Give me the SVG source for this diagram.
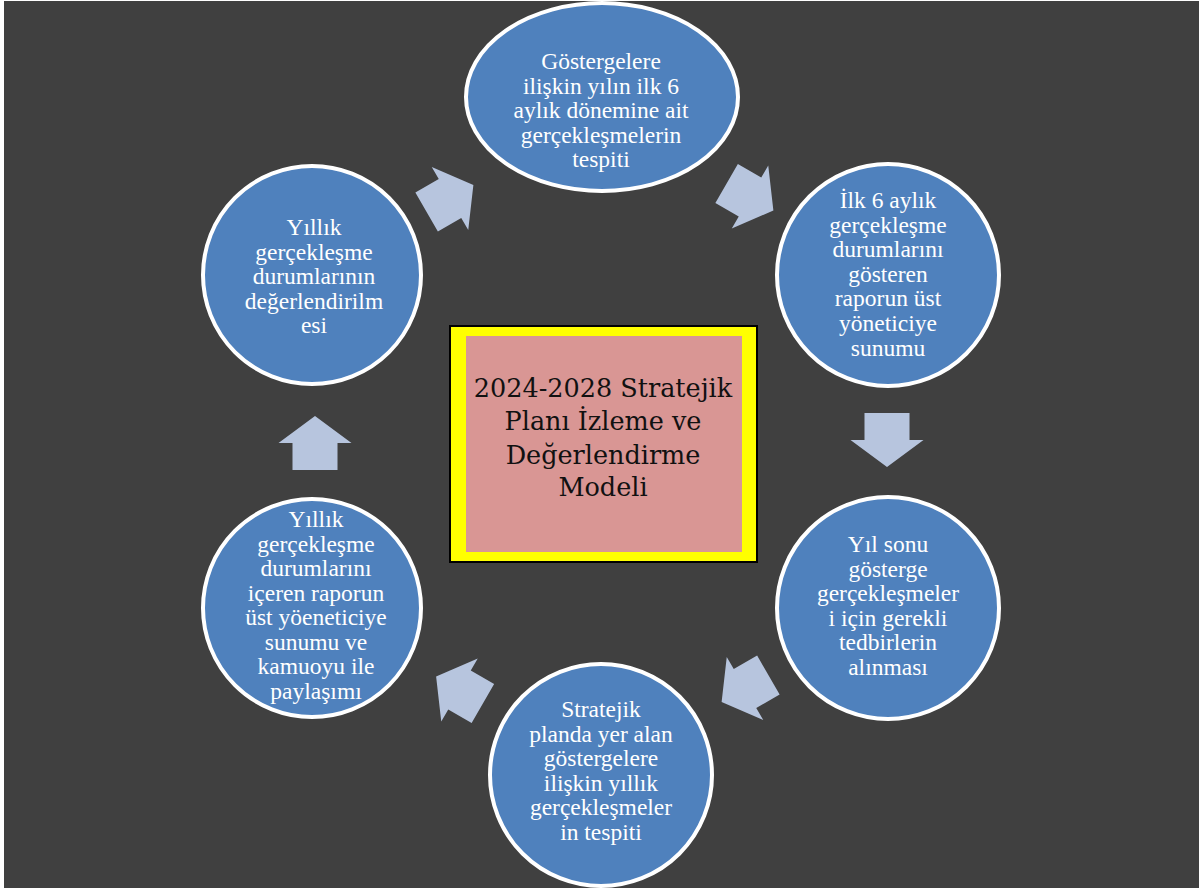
<svg xmlns="http://www.w3.org/2000/svg" width="1199" height="888" viewBox="0 0 1199 888">
<defs>
<style>
.node{fill:#4F81BD;stroke:#FFFFFF;stroke-width:4}
.t{font-family:"Liberation Serif","Times New Roman",serif;font-size:23.5px;fill:#FFFFFF;text-anchor:middle}
.ct{font-family:"DejaVu Serif",Georgia,serif;font-size:25.5px;fill:#111111;text-anchor:middle}
.arr{fill:#B7C5DE}
</style>
<polygon id="arrow" class="arr" points="-27,-22.5 0,-22.5 0,-36.5 27,0 0,36.5 0,22.5 -27,22.5"/>
</defs>
<rect x="0" y="0" width="1199" height="888" fill="#FFFFFF"/>
<rect x="4" y="1" width="1195" height="887" fill="#404040"/>

<g id="connectors">
<use href="#arrow" transform="translate(450,198.5) rotate(-30)"/>
<use href="#arrow" transform="translate(750,197) rotate(30)"/>
<use href="#arrow" transform="translate(887,440) rotate(90)"/>
<use href="#arrow" transform="translate(745,688.5) rotate(150)"/>
<use href="#arrow" transform="translate(459.5,690) rotate(210)"/>
<use href="#arrow" transform="translate(315,443) rotate(-90)"/>
</g>

<g id="center">
<rect x="450" y="326" width="307" height="236" fill="#FFFF00" stroke="#000000" stroke-width="2"/>
<rect x="466" y="336" width="276" height="216" fill="#D99694"/>
<text class="ct" x="603" y="397">2024-2028 Stratejik</text>
<text class="ct" x="603" y="430">Planı İzleme ve</text>
<text class="ct" x="603" y="464">Değerlendirme</text>
<text class="ct" x="603" y="496">Modeli</text>
</g>

<g id="n1">
<ellipse class="node" cx="602" cy="97" rx="136" ry="94"/>
<text class="t" x="601" y="69">Göstergelere</text>
<text class="t" x="601" y="94">ilişkin yılın ilk 6</text>
<text class="t" x="601" y="118">aylık dönemine ait</text>
<text class="t" x="601" y="143">gerçekleşmelerin</text>
<text class="t" x="601" y="167">tespiti</text>
</g>

<g id="n2">
<circle class="node" cx="888" cy="275" r="111"/>
<text class="t" x="888" y="208">İlk 6 aylık</text>
<text class="t" x="888" y="232.6">gerçekleşme</text>
<text class="t" x="888" y="257.2">durumlarını</text>
<text class="t" x="888" y="281.8">gösteren</text>
<text class="t" x="888" y="306.4">raporun üst</text>
<text class="t" x="888" y="331">yöneticiye</text>
<text class="t" x="888" y="355.6">sunumu</text>
</g>

<g id="n3">
<circle class="node" cx="888" cy="608" r="111"/>
<text class="t" x="888" y="552">Yıl sonu</text>
<text class="t" x="888" y="576.6">gösterge</text>
<text class="t" x="888" y="601.2">gerçekleşmeler</text>
<text class="t" x="888" y="625.8">i için gerekli</text>
<text class="t" x="888" y="650.4">tedbirlerin</text>
<text class="t" x="888" y="675">alınması</text>
</g>

<g id="n4">
<circle class="node" cx="601" cy="775" r="111"/>
<text class="t" x="601" y="717">Stratejik</text>
<text class="t" x="601" y="741.6">planda yer alan</text>
<text class="t" x="601" y="766.2">göstergelere</text>
<text class="t" x="601" y="790.8">ilişkin yıllık</text>
<text class="t" x="601" y="815.4">gerçekleşmeler</text>
<text class="t" x="601" y="840">in tespiti</text>
</g>

<g id="n5">
<circle class="node" cx="312" cy="608" r="109"/>
<text class="t" x="316" y="527">Yıllık</text>
<text class="t" x="316" y="551.5">gerçekleşme</text>
<text class="t" x="316" y="576">durumlarını</text>
<text class="t" x="316" y="600.5">içeren raporun</text>
<text class="t" x="316" y="625">üst yöeneticiye</text>
<text class="t" x="316" y="649.5">sunumu ve</text>
<text class="t" x="316" y="674">kamuoyu ile</text>
<text class="t" x="316" y="698.5">paylaşımı</text>
</g>

<g id="n6">
<circle class="node" cx="312" cy="275" r="109"/>
<text class="t" x="314" y="235">Yıllık</text>
<text class="t" x="314" y="259.5">gerçekleşme</text>
<text class="t" x="314" y="284">durumlarının</text>
<text class="t" x="314" y="308.5">değerlendirilm</text>
<text class="t" x="314" y="333">esi</text>
</g>
</svg>
